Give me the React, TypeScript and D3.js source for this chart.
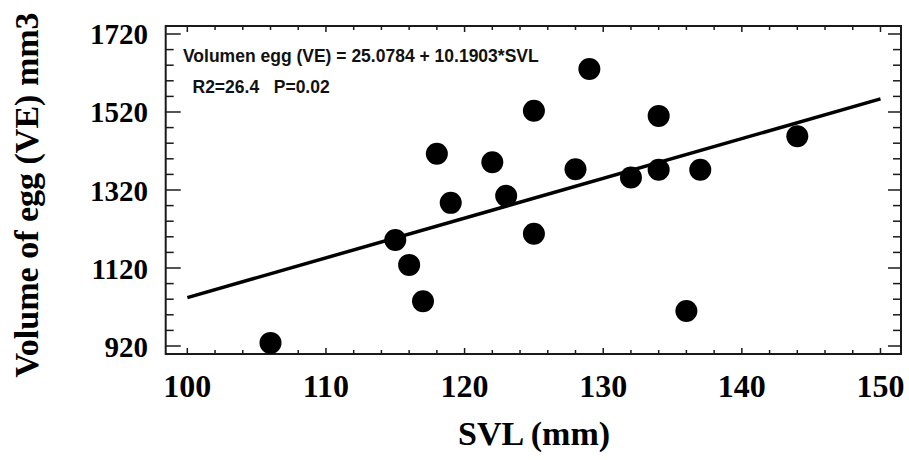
import React from "react";
import * as d3 from "d3";

// Snout-vent length (mm) and egg volume (mm3) for each female
const svl = [106, 115, 116, 117, 118, 119, 122, 123, 125, 125, 128, 129, 132, 134, 134, 136, 137, 144];
const eggVolume = [928, 1192, 1128, 1035, 1413, 1287, 1391, 1305, 1523, 1208, 1373, 1630, 1352, 1510, 1372, 1010, 1372, 1458];

// Fitted regression: VE = a + b * SVL
const intercept = 25.0784;
const slope = 10.1903;
const fitRange = [100, 150];

const xTicks = [100, 110, 120, 130, 140, 150];
const yTicks = [920, 1120, 1320, 1520, 1720];

const equationLabel = "Volumen egg (VE) = 25.0784 + 10.1903*SVL";
const statsLabel = "R2=26.4   P=0.02";
const xTitle = "SVL (mm)";
const yTitle = "Volume of egg (VE) mm3";

const W = 909;
const H = 460;
const left = 165.7;
const right = 901;
const top = 26;
const bottom = 354;

export default function App() {
  const x = d3.scaleLinear().domain([98.44, 151.48]).range([left, right]);
  const y = d3.scaleLinear().domain([899.5, 1740.5]).range([bottom, top]);

  const xMinor = d3.range(100, 151, 2);
  const yMinor = d3.range(920, 1721, 40);

  const line = d3
    .line<number>()
    .x((d) => x(d))
    .y((d) => y(intercept + slope * d));

  const serif = "'Liberation Serif', 'Times New Roman', serif";
  const sans = "'Liberation Sans', Arial, sans-serif";
  const axisColor = "#1a1a1a";

  return (
    <svg
      width={W}
      height={H}
      style={{ position: "absolute", left: 0, top: 0, background: "#fff" }}
    >
      <rect x={0} y={0} width={W} height={H} fill="#fff" />

      {/* ticks on all four sides, pointing inward */}
      {xMinor.map((v) => {
        const major = v % 10 === 0;
        const len = major ? 6 : 4;
        return (
          <g key={"xt" + v} stroke={axisColor} strokeWidth={1.5}>
            <line x1={x(v)} x2={x(v)} y1={bottom} y2={bottom - len} />
            <line x1={x(v)} x2={x(v)} y1={top} y2={top + len} />
          </g>
        );
      })}
      {yMinor.map((v) => {
        const major = (v - 920) % 200 === 0;
        return (
          <g key={"yt" + v} stroke={axisColor} strokeWidth={1.5}>
            <line x1={left} x2={left + (major ? 15 : 8)} y1={y(v)} y2={y(v)} />
            <line x1={right} x2={right - (major ? 13 : 8)} y1={y(v)} y2={y(v)} />
          </g>
        );
      })}

      <rect
        x={left}
        y={top}
        width={right - left}
        height={bottom - top}
        fill="none"
        stroke={axisColor}
        strokeWidth={2}
      />

      {/* tick labels */}
      {xTicks.map((v) => (
        <text
          key={"xl" + v}
          x={x(v)}
          y={397}
          textAnchor="middle"
          fontFamily={serif}
          fontWeight="bold"
          fontSize={32}
          fill="#000"
        >
          {v}
        </text>
      ))}
      {yTicks.map((v) => (
        <text
          key={"yl" + v}
          x={148}
          y={y(v) + 10.5}
          textAnchor="end"
          fontFamily={serif}
          fontWeight="bold"
          fontSize={29}
          fill="#000"
        >
          {v}
        </text>
      ))}

      {/* regression line */}
      <path d={line(fitRange) ?? ""} fill="none" stroke="#000" strokeWidth={3.5} />

      {/* observations */}
      {svl.map((s, i) => (
        <circle key={"p" + i} cx={x(s)} cy={y(eggVolume[i])} r={11} fill="#000" />
      ))}

      {/* annotations */}
      <text x={183} y={61.5} fontFamily={sans} fontWeight="bold" fontSize={17.5} fill="#111">
        {equationLabel}
      </text>
      <text
        x={192.5}
        y={92.5}
        fontFamily={sans}
        fontWeight="bold"
        fontSize={17.5}
        fill="#111"
        style={{ whiteSpace: "pre" }}
      >
        {statsLabel}
      </text>

      {/* axis titles */}
      <text
        x={534}
        y={445}
        textAnchor="middle"
        fontFamily={serif}
        fontWeight="bold"
        fontSize={34}
        fill="#000"
      >
        {xTitle}
      </text>
      <text
        transform={`translate(38, 195) rotate(-90)`}
        textAnchor="middle"
        fontFamily={serif}
        fontWeight="bold"
        fontSize={34}
        fill="#000"
      >
        {yTitle}
      </text>
    </svg>
  );
}
